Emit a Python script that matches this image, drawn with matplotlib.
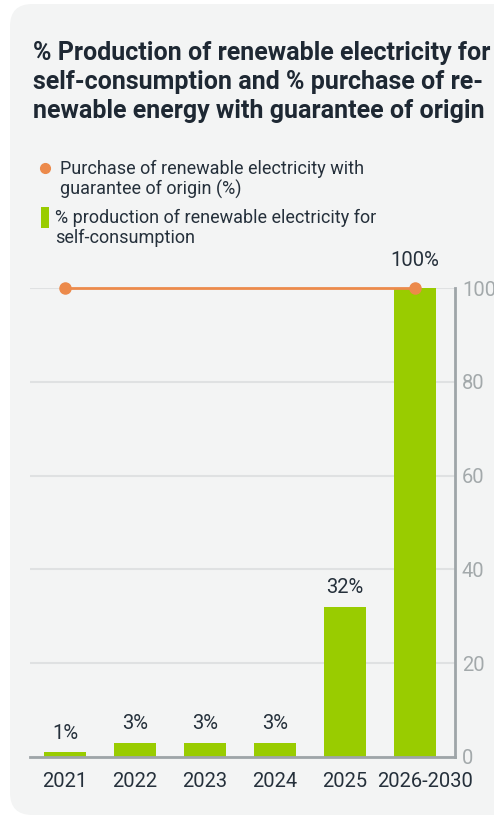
import matplotlib
matplotlib.use("Agg")
import matplotlib.pyplot as plt
import matplotlib.transforms as mtransforms
from matplotlib.patches import FancyBboxPatch, Rectangle
from matplotlib.lines import Line2D

plt.rcParams['font.family'] = ['Roboto', 'DejaVu Sans']

# data
categories = ['2021', '2022', '2023', '2024', '2025', '2026-2030']
production = [1, 3, 3, 3, 32, 100]
production_labels = ['1%', '3%', '3%', '3%', '32%', '100%']
purchase = [100, 100, 100, 100, 100, 100]
yticks = [0, 20, 40, 60, 80, 100]

green = '#99cc00'
orange = '#ec8a4b'
dark = '#25303b'
axis_gray = '#9ea5a8'
tick_gray = '#a3a9ab'
grid_gray = '#dfe1e2'

W, H = 494, 819
fig = plt.figure(figsize=(W / 100, H / 100), dpi=100)
fig.patch.set_facecolor('white')

# rounded card in background
card = FancyBboxPatch((10 / W, 4 / H), 560 / W, 811 / H,
                      boxstyle='round,pad=0,rounding_size=0.045',
                      transform=fig.transFigure, facecolor='#f3f4f4',
                      edgecolor='none', zorder=-10, mutation_aspect=W / H)
fig.patches.append(card)

ax = fig.add_axes([30 / W, (H - 757) / H, (455 - 30) / W, (757 - 288) / H])
ax.set_facecolor('none')
x = list(range(len(categories)))

ax.bar(x, production, width=0.59, color=green, zorder=2)
for xi, v, p, lab in zip(x, production, purchase, production_labels):
    off = 13 if v == p else 7
    ax.annotate(lab, (xi, v), xytext=(0, off), textcoords='offset points',
                ha='center', va='bottom', fontsize=14.5, color=dark)

ax.plot(x, purchase, color=orange, lw=2, zorder=3, marker='o', markersize=8,
        markevery=[0, len(x) - 1], clip_on=False)

ax.set_xlim(-0.5, 5.57)
ax.set_ylim(0, 100)
ax.set_yticks(yticks)
ax.yaxis.tick_right()
ax.tick_params(axis='y', length=0, pad=5, labelsize=14.5, labelcolor=tick_gray)
for lab in ax.get_yticklabels():
    lab.set_clip_on(False)
ax.set_xticks(x)
ax.set_xticklabels(categories)
ax.tick_params(axis='x', length=0, pad=11, labelsize=14.5, labelcolor=dark)
# nudge the long last label right so it does not run into 2025
last = ax.get_xticklabels()[-1]
last.set_transform(last.get_transform() +
                   mtransforms.ScaledTranslation(10 / 100, 0, fig.dpi_scale_trans))
ax.grid(axis='y', color=grid_gray, lw=1.5, zorder=0)
ax.set_axisbelow(True)
for s in ['top', 'left']:
    ax.spines[s].set_visible(False)
ax.spines['right'].set_color(axis_gray)
ax.spines['right'].set_linewidth(2)
ax.spines['bottom'].set_color(axis_gray)
ax.spines['bottom'].set_linewidth(2)

# title
fig.text(33 / W, 1 - 41 / H,
         '% Production of renewable electricity for\nself-consumption and % purchase of re-\nnewable energy with guarantee of origin',
         ha='left', va='top', fontsize=18, fontweight='bold', color='#1e2833',
         linespacing=1.27)

# legend
fig.add_artist(Line2D([45 / W], [1 - 168 / H], marker='o', markersize=7,
                      color=orange, transform=fig.transFigure))
fig.text(60 / W, 1 - 160 / H, 'Purchase of renewable electricity with\nguarantee of origin (%)',
         ha='left', va='top', fontsize=13, color=dark, linespacing=1.1)
fig.add_artist(Rectangle((41 / W, 1 - 228 / H), 8 / W, 21 / H, facecolor=green,
                         edgecolor='none', transform=fig.transFigure))
fig.text(55 / W, 1 - 209 / H, '% production of renewable electricity for\nself-consumption',
         ha='left', va='top', fontsize=13, color=dark, linespacing=1.1)

fig.savefig('out.png', dpi=100)
